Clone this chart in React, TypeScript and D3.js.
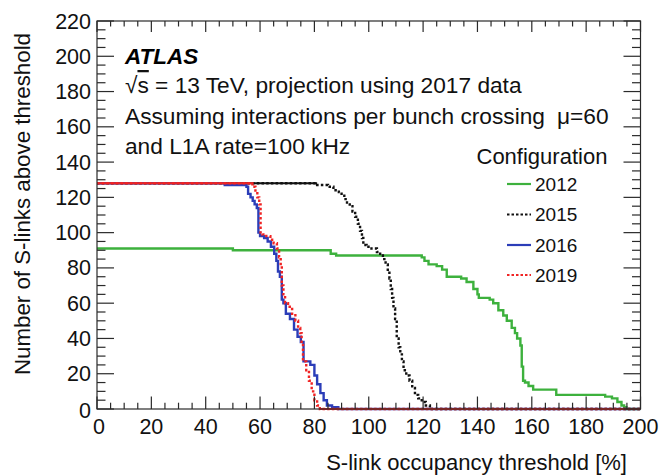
import React from "react";
import * as d3 from "d3";

const W = 659;
const H = 475;

// Step data: threshold where count drops, new count
const x2012 = [0, 50, 86, 88, 119.5, 120.5, 122, 125, 127, 128.7, 134, 136, 138.5, 140, 140.5, 144.5, 145.8, 147.7, 149.5, 150.8, 152.6, 153.8, 154.6, 155.8, 156.3, 156.8, 157.5, 158.8, 160.5, 169, 187, 189.5, 191.5, 193, 194, 194.8];
const y2012 = [91, 90, 88, 87, 86, 84, 82, 81, 79, 75, 74, 72, 68, 65, 63, 62, 60, 56, 53, 50, 46, 43, 40, 36, 24, 16, 15, 13, 11, 8, 7, 6, 4, 2, 1, 0];

const x2015 = [0, 81, 85, 87, 89, 90, 91, 92, 93, 94, 95, 96, 96.8, 97.5, 98, 99.2, 101, 103, 104.2, 105.2, 106.2, 107, 107.6, 108.1, 108.6, 109.1, 109.7, 110.3, 111, 111.6, 112.2, 112.8, 113.8, 115, 116, 117, 118.2, 119.5, 121, 122.5];
const y2015 = [128, 127, 126, 124, 123, 121, 119, 117, 115, 112, 109, 105, 101, 97, 93, 92, 91, 89, 87, 85, 82, 78, 74, 68, 63, 57, 51, 40, 35, 31, 27, 22, 19, 16, 12, 8, 6, 4, 2, 0];

const x2016 = [0, 47, 55, 55.6, 56.5, 57.3, 58, 58.8, 59.4, 60, 61.5, 62.8, 64, 65.2, 66, 66.6, 67.3, 68, 68.6, 69.5, 71, 72.5, 73.8, 75, 76, 78.5, 80, 81, 82.2, 83.4, 84.6, 86.5, 88.8];
const y2016 = [128, 127, 126, 122, 120, 118, 116, 114, 100, 98, 97, 95, 92, 88, 84, 78, 75, 62, 60, 54, 51, 45, 41, 38, 27, 25, 19, 14, 9, 5, 2, 1, 0];

const x2019 = [0, 57.2, 58.3, 59, 59.7, 60.2, 60.8, 62.3, 63.8, 65, 66.2, 67, 67.6, 68, 68.6, 69.2, 70.3, 71.8, 73, 74, 74.8, 75.3, 75.8, 77, 78, 79, 80, 81, 82];
const y2019 = [128, 126, 123, 120, 116, 100, 99, 98, 96, 94, 91, 86, 81, 70, 65, 60, 58, 54, 50, 46, 43, 37, 27, 22, 16, 10, 5, 2, 0];

const legendLabels = ["2012", "2015", "2016", "2019"];
const xTicks = [0, 20, 40, 60, 80, 100, 120, 140, 160, 180, 200];
const yTicks = [0, 20, 40, 60, 80, 100, 120, 140, 160, 180, 200, 220];

const FONT = '"Liberation Sans", Arial, Helvetica, sans-serif';

const X0 = 97, X1 = 640.5, Y0 = 409, Y1 = 21;
const xs = d3.scaleLinear().domain([0, 200]).range([X0, X1]);
const ys = d3.scaleLinear().domain([0, 220]).range([Y0, Y1]);

type Series = { xsArr: number[]; ysArr: number[]; color: string; dashed: boolean; label: string };

const series: Series[] = [
  { xsArr: x2012, ysArr: y2012, color: "#3db13d", dashed: false, label: legendLabels[0] },
  { xsArr: x2015, ysArr: y2015, color: "#111111", dashed: true, label: legendLabels[1] },
  { xsArr: x2016, ysArr: y2016, color: "#2b3db8", dashed: false, label: legendLabels[2] },
  { xsArr: x2019, ysArr: y2019, color: "#f02424", dashed: true, label: legendLabels[3] },
];

function pts(s: Series): [number, number][] {
  const p: [number, number][] = s.xsArr.map((x, i) => [x, s.ysArr[i]]);
  p.push([200, s.ysArr[s.ysArr.length - 1]]);
  return p;
}

const line = d3
  .line<[number, number]>()
  .x((d) => xs(d[0]))
  .y((d) => ys(d[1]))
  .curve(d3.curveStepAfter);

function longFlats(s: Series): [number, number][][] {
  const p = pts(s);
  const out: [number, number][][] = [];
  for (let i = 0; i < p.length - 1; i++) {
    if (p[i + 1][0] - p[i][0] > 10) {
      out.push([p[i], [p[i + 1][0], p[i][1]]]);
    }
  }
  return out;
}

export default function App() {
  const minorX = d3.range(0, 201, 5).filter((v) => v % 20 !== 0);
  const minorY = d3.range(0, 221, 5).filter((v) => v % 20 !== 0);
  const axisColor = "#2a2a2a";
  const legendY = [190.5, 221, 251.5, 281.5];
  return (
    <svg width={W} height={H} style={{ position: "absolute", left: 0, top: 0, background: "#fff" }} fontFamily={FONT}>
      <rect x={0} y={0} width={W} height={H} fill="#fff" />
      <defs>
        <clipPath id="plotclip">
          <rect x={X0} y={Y1} width={X1 - X0} height={Y0 - Y1 + 2} />
        </clipPath>
      </defs>
      <g clipPath="url(#plotclip)">
        {series.map((s, i) => (
          <g key={i}>
            <path
              d={line(pts(s)) || ""}
              fill="none"
              stroke={s.color}
              strokeWidth={s.dashed ? 2.4 : 2.4}
              strokeDasharray={s.dashed ? "2.5,2.2" : undefined}
            />
            {s.dashed &&
              longFlats(s).map((seg, j) => (
                <path key={j} d={d3.line<[number, number]>().x((d) => xs(d[0])).y((d) => ys(d[1]))(seg) || ""} fill="none" stroke={s.color} strokeWidth={2.2} />
              ))}
          </g>
        ))}
      </g>
      <rect x={X0} y={Y1} width={X1 - X0} height={Y0 - Y1} fill="none" stroke={axisColor} strokeWidth={1.2} />
      {xTicks.map((v) => (
        <g key={"xt" + v}>
          <line x1={xs(v)} x2={xs(v)} y1={Y0} y2={Y0 - 12.5} stroke={axisColor} strokeWidth={1.2} />
          <line x1={xs(v)} x2={xs(v)} y1={Y1} y2={Y1 + 11} stroke={axisColor} strokeWidth={1.2} />
          <text x={xs(v) + (v === 0 ? 2 : 0)} y={433.5} textAnchor="middle" fontSize={21.5} fill="#111">
            {v}
          </text>
        </g>
      ))}
      {minorX.map((v) => (
        <g key={"xm" + v}>
          <line x1={xs(v)} x2={xs(v)} y1={Y0} y2={Y0 - 6.3} stroke={axisColor} strokeWidth={1.2} />
          <line x1={xs(v)} x2={xs(v)} y1={Y1} y2={Y1 + 5.5} stroke={axisColor} strokeWidth={1.2} />
        </g>
      ))}
      {yTicks.map((v) => (
        <g key={"yt" + v}>
          <line x1={X0} x2={X0 + 17} y1={ys(v)} y2={ys(v)} stroke={axisColor} strokeWidth={1.2} />
          <line x1={X1} x2={X1 - 17} y1={ys(v)} y2={ys(v)} stroke={axisColor} strokeWidth={1.2} />
          <text x={91} y={ys(v) + 7.5 + (v === 0 ? 1 : 0)} textAnchor="end" fontSize={21.5} fill="#111">
            {v}
          </text>
        </g>
      ))}
      {minorY.map((v) => (
        <g key={"ym" + v}>
          <line x1={X0} x2={X0 + 8.5} y1={ys(v)} y2={ys(v)} stroke={axisColor} strokeWidth={1.2} />
          <line x1={X1} x2={X1 - 8.5} y1={ys(v)} y2={ys(v)} stroke={axisColor} strokeWidth={1.2} />
        </g>
      ))}
      <text x={627} y={470} textAnchor="end" fontSize={22} fill="#111">
        S-link occupancy threshold [%]
      </text>
      <text transform="translate(30,33) rotate(-90)" textAnchor="end" fontSize={22.3} fill="#111">
        Number of S-links above threshold
      </text>
      <text x={125} y={63.5} fontSize={22.5} fontWeight="bold" fontStyle="italic" fill="#000">
        ATLAS
      </text>
      <text x={125} y={93} fontSize={22.7} fill="#111">
        √<tspan textDecoration="overline">s</tspan> = 13 TeV, projection using 2017 data
      </text>
      <text x={125} y={124} fontSize={22.7} fill="#111">
        Assuming interactions per bunch crossing<tspan dx={12}>μ=60</tspan>
      </text>
      <text x={125} y={154} fontSize={22.7} fill="#111">
        and L1A rate=100 kHz
      </text>
      <text x={476.5} y={163.5} fontSize={22} fill="#111">
        Configuration
      </text>
      {series.map((s, i) => (
        <g key={"lg" + i}>
          <line
            x1={507}
            x2={531}
            y1={legendY[i] - 6.5}
            y2={legendY[i] - 6.5}
            stroke={s.color}
            strokeWidth={2.2}
            strokeDasharray={s.dashed ? "2.5,2" : undefined}
          />
          <text x={535} y={legendY[i]} fontSize={19} fill="#111">
            {s.label}
          </text>
        </g>
      ))}
    </svg>
  );
}
